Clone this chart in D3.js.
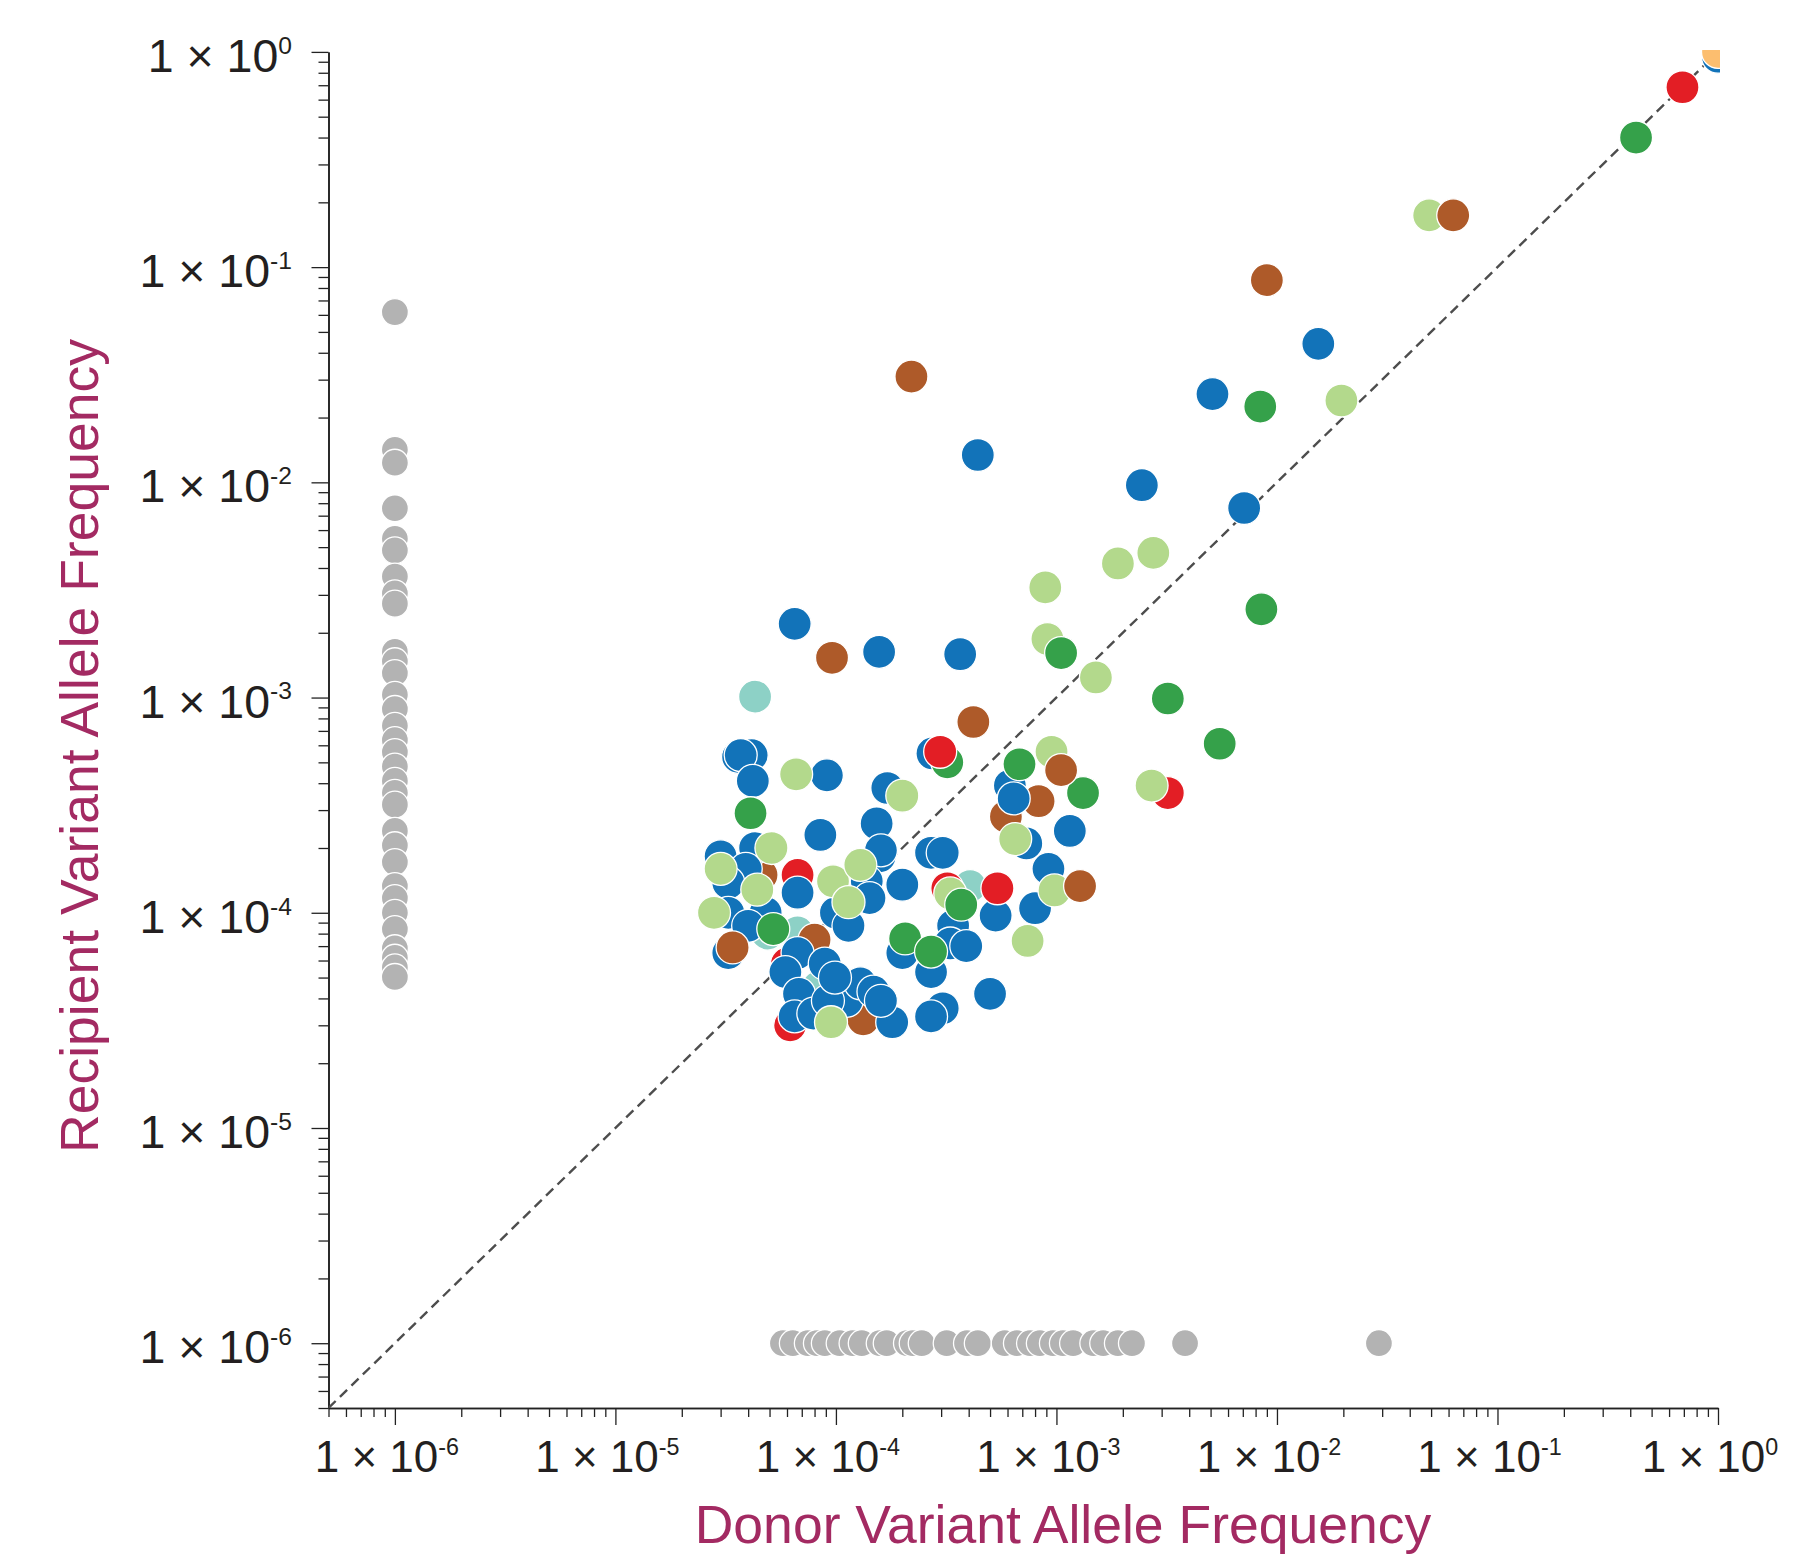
<!doctype html>
<html lang="en">
<head>
<meta charset="utf-8">
<title>Donor vs Recipient VAF</title>
<script src="https://d3js.org/d3.v7.min.js"></script>
<style>
  body { margin: 0; background: #fff; }
  svg { display: block; font-family: "Helvetica Neue", Helvetica, "Liberation Sans", Arial, sans-serif; }
</style>
</head>
<body>
<svg id="chart"></svg>
<script>
// values: [donor VAF, recipient VAF]
var blue = [
  [1.0, 0.95], [0.0154, 0.044], [0.0051, 0.0257], [4.4e-4, 0.0134], [0.00244, 0.0097],
  [0.0071, 0.0076], [6.5e-5, 0.0022], [1.57e-4, 0.00163], [3.66e-4, 0.00159],
  [2.74e-4, 5.5e-4], [6.15e-4, 3.9e-4], [6.4e-4, 3.4e-4], [7.3e-4, 2.1e-4], [1.15e-3, 2.4e-4],
  [9.2e-4, 1.6e-4], [8.0e-4, 1.05e-4], [5.3e-4, 9.7e-5], [3.4e-4, 8.7e-5], [3.3e-4, 7.2e-5],
  [3.9e-4, 7.0e-5], [2.7e-4, 5.3e-5], [2.0e-4, 6.5e-5], [2.0e-4, 1.35e-4], [5.0e-4, 4.2e-5],
  [3.05e-4, 3.6e-5], [2.7e-4, 3.3e-5], [1.8e-4, 3.1e-5], [2.7e-4, 1.9e-4], [3.05e-4, 1.9e-4],
  [8.5e-5, 2.3e-4], [1.53e-4, 2.6e-4], [3.0e-5, 1.83e-4], [4.3e-5, 2.0e-4], [3.9e-5, 1.6e-4],
  [3.25e-5, 1.38e-4], [3.25e-5, 1.0e-4], [4.8e-5, 1.0e-4], [4.0e-5, 8.7e-5], [3.25e-5, 6.5e-5],
  [6.7e-5, 1.24e-4], [1.58e-4, 1.83e-4], [1.6e-4, 1.95e-4], [1.38e-4, 1.4e-4], [1.42e-4, 1.17e-4],
  [1.0e-4, 1.0e-4], [1.14e-4, 8.7e-5], [6.7e-5, 6.5e-5], [5.9e-5, 5.3e-5], [8.9e-5, 5.8e-5],
  [6.8e-5, 4.2e-5], [6.5e-5, 3.3e-5], [7.9e-5, 3.4e-5], [1.12e-4, 3.9e-5], [1.29e-4, 4.7e-5],
  [1.48e-4, 4.3e-5], [1.6e-4, 3.9e-5], [9.2e-5, 3.9e-5], [9.9e-5, 5.0e-5], [4.15e-5, 5.4e-4],
  [3.6e-5, 5.3e-4], [3.7e-5, 5.4e-4], [4.2e-5, 4.1e-4], [9.1e-5, 4.35e-4], [1.71e-4, 3.8e-4]
];
var lightGreen = [
  [0.049, 0.174], [0.0196, 0.024], [0.0019, 0.0042], [0.00275, 0.0047], [8.9e-4, 0.00325],
  [9.1e-4, 0.00187], [1.51e-3, 1.24e-3], [9.5e-4, 5.6e-4], [6.5e-4, 2.2e-4], [9.8e-4, 1.27e-4],
  [7.4e-4, 7.4e-5], [3.3e-4, 1.23e-4], [2.7e-3, 3.9e-4], [5.1e-5, 2.0e-4], [3.0e-5, 1.6e-4],
  [4.4e-5, 1.28e-4], [2.8e-5, 1.0e-4], [9.7e-5, 1.4e-4], [1.29e-4, 1.67e-4], [1.14e-4, 1.12e-4],
  [9.5e-5, 3.1e-5], [6.6e-5, 4.4e-4], [2.0e-4, 3.5e-4]
];
var green = [
  [0.425, 0.40], [0.0084, 0.0225], [0.0085, 0.00257], [1.05e-3, 1.61e-3], [3.2e-3, 9.9e-4],
  [5.5e-3, 6.1e-4], [3.2e-4, 5.0e-4], [6.8e-4, 4.9e-4], [1.32e-3, 3.6e-4], [3.7e-4, 1.09e-4],
  [2.06e-4, 7.6e-5], [2.7e-4, 6.6e-5], [4.1e-5, 2.9e-4], [5.2e-5, 8.4e-5]
];
var brown = [
  [0.063, 0.174], [0.009, 0.087], [2.2e-4, 0.031], [9.6e-5, 1.53e-3], [4.2e-4, 7.7e-4],
  [1.05e-3, 4.6e-4], [8.3e-4, 3.3e-4], [5.9e-4, 2.8e-4], [1.28e-3, 1.33e-4], [4.6e-5, 1.5e-4],
  [3.4e-5, 6.9e-5], [8.0e-5, 7.5e-5], [1.1e-4, 3.5e-5], [1.33e-4, 3.2e-5]
];
var red = [
  [0.69, 0.685], [2.97e-4, 5.6e-4], [5.4e-4, 1.3e-4], [3.2e-4, 1.3e-4], [3.2e-3, 3.6e-4],
  [6.7e-5, 1.5e-4], [6.0e-5, 5.8e-5], [6.2e-5, 3.0e-5]
];
var teal = [
  [4.3e-5, 1.01e-3], [4.06e-4, 1.33e-4], [6.7e-5, 8.1e-5], [8.3e-5, 4.5e-5], [4.9e-5, 8.0e-5]
];
var orange = [[1.0, 1.0]];

// variants absent in the donor (x = 1e-6) or in the recipient (y = 1e-6)
var grayLeftY = [
  0.0618, 0.01416, 0.01233, 0.00758, 0.00547, 0.00483, 0.00365, 0.00305, 0.00273,
  0.00163, 0.001475, 0.0013, 0.00103, 8.85e-4, 7.39e-4, 6.34e-4, 5.58e-4, 4.78e-4,
  4.1e-4, 3.61e-4, 3.18e-4, 2.4e-4, 2.06e-4, 1.72e-4, 1.33e-4, 1.17e-4, 1.0e-4,
  8.4e-5, 6.84e-5, 6.18e-5, 5.57e-5, 5.03e-5
];
var grayBottomX = [
  5.75e-5, 6.38e-5, 7.46e-5, 8.2e-5, 8.91e-5, 1.04e-4, 1.19e-4, 1.31e-4, 1.58e-4, 1.7e-4,
  2.1e-4, 2.23e-4, 2.45e-4, 3.18e-4, 3.93e-4, 4.4e-4, 5.83e-4, 6.62e-4, 7.59e-4, 8.41e-4,
  9.64e-4, 1.07e-3, 1.19e-3, 1.47e-3, 1.63e-3, 1.9e-3, 2.2e-3, 3.83e-3, 0.029
];
var floorValue = 1e-6;
var exponents = [-6, -5, -4, -3, -2, -1, 0];

// drawing order, back to front; "front" lists points that sit above the rest
var groups = [
  { data: teal, color: "#8dd1c6", front: [] },
  { data: red, color: "#e31e25", front: [1, 2] },
  { data: brown, color: "#ae5a29", front: [0, 5, 8, 10] },
  { data: blue, color: "#1273b9", front: [] },
  { data: lightGreen, color: "#b3d98c", front: [] },
  { data: green, color: "#35a14a", front: [] },
  { data: orange, color: "#fcbe6f", front: [] }
];

var width = 1807, height = 1556;
var svg = d3.select("#chart").attr("width", width).attr("height", height);

var x = d3.scaleLog().domain([5e-7, 1]).range([328.5, 1718]);
var y = d3.scaleLog().domain([5e-7, 1]).range([1408, 51.9]);

var majors = exponents.map(function(e) { return Math.pow(10, e); });
var minors = [];
for (var k = -7; k < 0; k++) {
  for (var m = 2; m <= 9; m++) {
    var v = m * Math.pow(10, k);
    if (v >= 4.99e-7 && v < 1) minors.push(v);
  }
}

svg.append("clipPath").attr("id", "plot")
  .append("rect")
    .attr("x", x.range()[0]).attr("y", y.range()[1] - 2)
    .attr("width", x.range()[1] - x.range()[0] + 2)
    .attr("height", y.range()[0] - y.range()[1] + 2);

function styleAxis(g) {
  g.select(".domain").attr("stroke", "#222").attr("stroke-width", 1.6);
  g.selectAll(".tick line").attr("stroke", "#222").attr("stroke-width", 1.3);
}

// minor ticks, then major ticks with the axis line
svg.append("g").attr("transform", "translate(" + x.range()[0] + ",0)")
  .call(d3.axisLeft(y).tickValues(minors).tickSize(10).tickSizeOuter(0).tickFormat(""))
  .call(styleAxis);
svg.append("g").attr("transform", "translate(" + x.range()[0] + ",0)")
  .call(d3.axisLeft(y).tickValues(majors).tickSize(17).tickSizeOuter(0).tickFormat(""))
  .call(styleAxis);
svg.append("g").attr("transform", "translate(0," + y.range()[0] + ")")
  .call(d3.axisBottom(x).tickValues(minors).tickSize(9).tickSizeOuter(0).tickFormat(""))
  .call(styleAxis);
svg.append("g").attr("transform", "translate(0," + y.range()[0] + ")")
  .call(d3.axisBottom(x).tickValues(majors).tickSize(17).tickSizeOuter(0).tickFormat(""))
  .call(styleAxis);

function powLabel(sel, size) {
  sel.attr("font-size", size).attr("fill", "#231f20")
    .text("1 \u00d7 10")
    .append("tspan")
      .attr("font-size", size * 0.53)
      .attr("dy", -size * 0.39)
      .text(function(e) { return e === 0 ? "0" : String(e); });
}

svg.append("g").selectAll("text")
  .data(exponents)
  .enter().append("text")
    .attr("text-anchor", "end")
    .attr("x", 292)
    .attr("y", function(e) { return y(Math.pow(10, e)) + 20; })
    .call(powLabel, 46.5);

svg.append("g").selectAll("text")
  .data(exponents)
  .enter().append("text")
    .attr("text-anchor", "middle")
    .attr("x", function(e) { return x(Math.pow(10, e)) - 8; })
    .attr("y", 1472)
    .call(powLabel, 44);

var plot = svg.append("g").attr("clip-path", "url(#plot)");

plot.append("line")
  .attr("x1", x(5e-7)).attr("y1", y(5e-7))
  .attr("x2", x(1)).attr("y2", y(1))
  .attr("stroke", "#4d4d4d")
  .attr("stroke-width", 2.4)
  .attr("stroke-dasharray", "10,6");

plot.selectAll("circle.left")
  .data(grayLeftY)
  .enter().append("circle")
    .attr("class", "left")
    .attr("cx", x(floorValue))
    .attr("cy", function(d) { return y(d); })
    .attr("r", 13.5)
    .attr("fill", "#b3b3b3")
    .attr("stroke", "#fff").attr("stroke-width", 1.3);

plot.selectAll("circle.bottom")
  .data(grayBottomX)
  .enter().append("circle")
    .attr("class", "bottom")
    .attr("cx", function(d) { return x(d); })
    .attr("cy", y(floorValue))
    .attr("r", 13.5)
    .attr("fill", "#b3b3b3")
    .attr("stroke", "#fff").attr("stroke-width", 1.3);

var dots = plot.append("g");
groups.forEach(function(gr) {
  gr.nodes = dots.selectAll(null)
    .data(gr.data)
    .enter().append("circle")
      .attr("cx", function(d) { return x(d[0]); })
      .attr("cy", function(d) { return y(d[1]); })
      .attr("r", 16.5)
      .attr("fill", gr.color)
      .attr("stroke", "#fff").attr("stroke-width", 1.3);
});
groups.forEach(function(gr) {
  gr.nodes.filter(function(d, i) { return gr.front.indexOf(i) >= 0; }).raise();
});
groups[groups.length - 1].nodes.raise();

var titleColor = "#a32a62";
svg.append("text")
  .attr("x", 1063).attr("y", 1543)
  .attr("text-anchor", "middle")
  .attr("font-size", 53.5)
  .attr("fill", titleColor)
  .text("Donor Variant Allele Frequency");

svg.append("text")
  .attr("transform", "translate(98,746) rotate(-90)")
  .attr("text-anchor", "middle")
  .attr("font-size", 53.5)
  .attr("fill", titleColor)
  .text("Recipient Variant Allele Frequency");
</script>
</body>
</html>
